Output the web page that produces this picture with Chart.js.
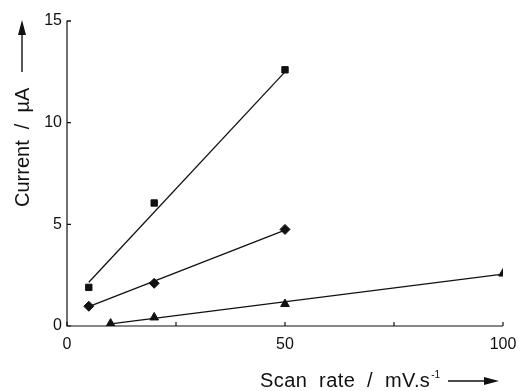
<!DOCTYPE html>
<html><head><meta charset="utf-8">
<script src="https://cdn.jsdelivr.net/npm/chart.js@4/dist/chart.umd.min.js"></script>
<style>html,body{margin:0;padding:0;background:#fff}</style>
</head><body>
<canvas id="c" width="520" height="391"></canvas>
<script>
// Data
const squareX = [5, 20, 50];
const squareY = [1.9, 6.05, 12.6];
const diamondX = [5, 20, 50];
const diamondY = [0.97, 2.1, 4.75];
const triangleX = [10, 20, 50, 100];
const triangleY = [0.12, 0.42, 1.08, 2.58];
// fitted lines (endpoints)
const squareFitX = [5, 50];
const squareFitY = [2.15, 12.5];
const diamondFitX = [5, 50];
const diamondFitY = [0.95, 4.72];
const triangleFitX = [10, 100];
const triangleFitY = [0.1, 2.55];
const xTicks = [0, 25, 50, 75, 100];
const xLabels = {0: '0', 50: '50', 100: '100'};
const yTicks = [0, 5, 10, 15];

const pts = (xs, ys) => xs.map((x, i) => ({x, y: ys[i]}));
const INK = '#111';
const FONT = '"Liberation Sans", Arial, sans-serif';

const lineDs = (xs, ys) => ({type: 'line', data: pts(xs, ys), borderColor: INK, borderWidth: 1.3, pointRadius: 0, fill: false, order: 2});
const markDs = (xs, ys, style, r) => ({type: 'scatter', data: pts(xs, ys), pointStyle: style, pointRadius: r, backgroundColor: INK, borderColor: INK, borderWidth: 1, order: 1});

const decor = {
  id: 'decor',
  afterDraw(chart) {
    const ctx = chart.ctx, a = chart.chartArea, xs = chart.scales.x, ys = chart.scales.y;
    ctx.save();
    ctx.strokeStyle = INK; ctx.fillStyle = INK; ctx.lineWidth = 1.2;
    // axes
    ctx.beginPath();
    ctx.moveTo(a.left + 4, ys.getPixelForValue(15)); ctx.lineTo(a.left, ys.getPixelForValue(15));
    ctx.lineTo(a.left, ys.getPixelForValue(0));
    ctx.lineTo(xs.getPixelForValue(100), ys.getPixelForValue(0));
    ctx.stroke();
    // inside ticks
    ctx.beginPath();
    xTicks.forEach(v => { const p = xs.getPixelForValue(v); ctx.moveTo(p, a.bottom); ctx.lineTo(p, a.bottom - 4); });
    yTicks.forEach(v => { const p = ys.getPixelForValue(v); ctx.moveTo(a.left, p); ctx.lineTo(a.left + 4, p); });
    ctx.stroke();
    // y title
    ctx.font = '20px ' + FONT;
    ctx.save();
    ctx.translate(29, 207);
    ctx.rotate(-Math.PI / 2);
    ctx.textAlign = 'left'; ctx.textBaseline = 'alphabetic';
    const yt = 'Current  /  \u00b5A';
    ctx.fillText(yt, 0, 0);
    ctx.beginPath(); ctx.lineWidth = 1.4;
    ctx.moveTo(135, -7); ctx.lineTo(176, -7); ctx.stroke();
    ctx.beginPath(); ctx.moveTo(187, -7); ctx.lineTo(172, -11); ctx.lineTo(172, -3); ctx.closePath(); ctx.fill();
    ctx.restore();
    // x title
    ctx.textAlign = 'left'; ctx.textBaseline = 'alphabetic';
    const x0 = 260, yb = 387;
    ctx.letterSpacing = '0.4px';
    ctx.fillText('Scan  rate  /  mV.s', x0, yb);
    const w2 = ctx.measureText('Scan  rate  /  mV.s').width;
    ctx.letterSpacing = '0px';
    ctx.font = '10px ' + FONT;
    ctx.fillText('-1', x0 + w2 + 1, yb - 9);
    ctx.beginPath(); ctx.lineWidth = 1.6;
    ctx.moveTo(448, yb - 6); ctx.lineTo(488, yb - 6); ctx.stroke();
    ctx.beginPath(); ctx.moveTo(499, yb - 6); ctx.lineTo(484, yb - 10); ctx.lineTo(484, yb - 2); ctx.closePath(); ctx.fill();
    ctx.restore();
  }
};

new Chart(document.getElementById('c'), {
  data: {
    datasets: [
      lineDs(squareFitX, squareFitY),
      lineDs(diamondFitX, diamondFitY),
      lineDs(triangleFitX, triangleFitY),
      markDs(squareX, squareY, 'rect', 4.5),
      markDs(diamondX, diamondY, 'rectRot', 5),
      markDs(triangleX, triangleY, 'triangle', 5)
    ]
  },
  options: {
    responsive: false,
    animation: false,
    layout: {padding: {top: 21, right: 17, left: 0, bottom: 0}},
    plugins: {legend: {display: false}, tooltip: {enabled: false}},
    scales: {
      x: {
        type: 'linear', min: 0, max: 100,
        afterBuildTicks: s => { s.ticks = xTicks.map(v => ({value: v})); },
        afterFit: s => { s.height = 65; s.paddingLeft = 0; s.paddingRight = 0; },
        grid: {display: false, drawTicks: false}, border: {display: false},
        ticks: {padding: 9, color: INK, font: {family: FONT, size: 16}, maxRotation: 0, autoSkip: false,
          callback: v => xLabels[v] !== undefined ? xLabels[v] : ''}
      },
      y: {
        type: 'linear', min: 0, max: 15,
        afterBuildTicks: s => { s.ticks = yTicks.map(v => ({value: v})); },
        afterFit: s => { s.width = 67; s.paddingTop = 0; s.paddingBottom = 0; },
        grid: {display: false, drawTicks: false}, border: {display: false},
        ticks: {padding: 5, color: INK, font: {family: FONT, size: 16}}
      }
    }
  },
  plugins: [decor]
});
</script>
</body></html>
